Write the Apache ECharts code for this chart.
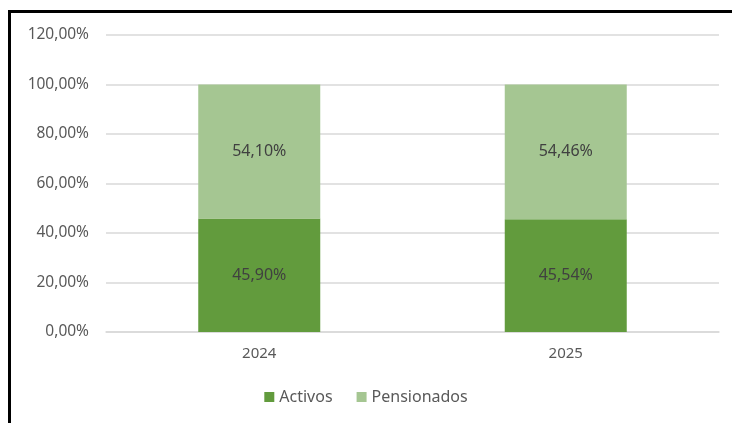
<!DOCTYPE html>
<html>
<head>
<meta charset="utf-8">
<script src="https://cdn.jsdelivr.net/npm/echarts@6/dist/echarts.min.js"></script>
<style>
  html, body { margin: 0; padding: 0; background: #fff; }
  #chart { width: 732px; height: 423px; }
</style>
</head>
<body>
<div id="chart"></div>
<script>
// datos
var anos = ['2024', '2025'];
var activos = [45.90, 45.54];
var pensionados = [54.10, 54.46];

var myChart = echarts.init(document.getElementById('chart'));

var fmt = function (v) {
    return v.toFixed(2).replace('.', ',') + '%';
};

var textColor = '#595959';
var fontFam = 'Noto Sans';

var option = {
    animation: false,
    backgroundColor: '#fff',
    grid: { left: 106, right: 13, top: 35, bottom: 91 },
    legend: {
        bottom: 13,
        left: 'center',
        itemWidth: 10,
        itemHeight: 10,
        itemGap: 24,
        itemTextGap: 4,
        icon: 'rect',
        textStyle: { color: textColor, fontFamily: fontFam, fontSize: 16 },
        data: ['Activos', 'Pensionados']
    },
    xAxis: {
        type: 'category',
        data: anos,
        axisLine: { lineStyle: { color: '#d9d9d9', width: 1.5 } },
        axisTick: { show: false },
        axisLabel: { color: textColor, fontFamily: fontFam, fontSize: 15, margin: 14 }
    },
    yAxis: {
        type: 'value',
        min: 0,
        max: 120,
        interval: 20,
        axisLine: { show: false },
        axisTick: { show: false },
        splitLine: { lineStyle: { color: '#d9d9d9', width: 1.5 } },
        axisLabel: {
            color: textColor, fontFamily: fontFam, fontSize: 15.5, margin: 17,
            formatter: function (v) { return fmt(v); }
        }
    },
    series: [
        {
            name: 'Activos',
            type: 'bar',
            stack: 'total',
            barWidth: 122,
            data: activos,
            itemStyle: { color: '#629b3d' },
            label: {
                show: true, position: 'inside', color: '#404040',
                fontFamily: fontFam, fontSize: 16,
                formatter: function (p) { return fmt(p.value); }
            }
        },
        {
            name: 'Pensionados',
            type: 'bar',
            stack: 'total',
            barWidth: 122,
            data: pensionados,
            itemStyle: { color: '#a5c692' },
            label: {
                show: true, position: 'inside', color: '#404040',
                fontFamily: fontFam, fontSize: 16,
                formatter: function (p) { return fmt(p.value); }
            }
        }
    ],
    graphic: [
        {
            type: 'polyline',
            silent: true,
            shape: { points: [[9.5, 423], [9.5, 11.5], [732, 11.5]] },
            style: { stroke: '#000', lineWidth: 3, fill: null }
        }
    ]
};

myChart.setOption(option);
</script>
</body>
</html>
